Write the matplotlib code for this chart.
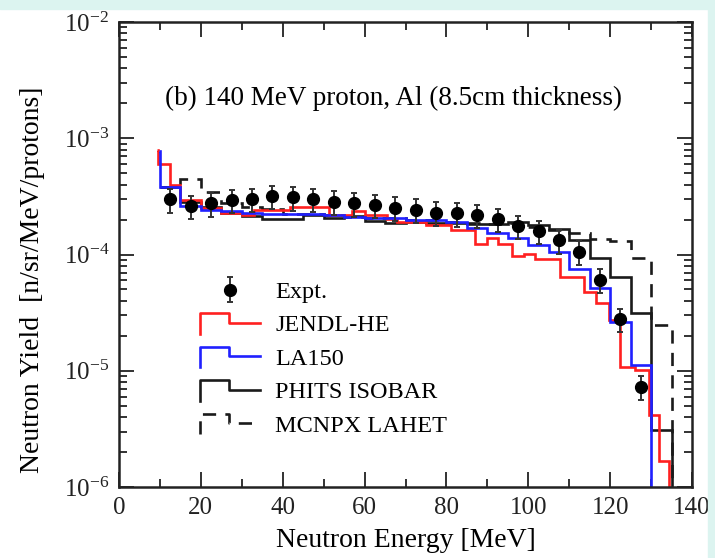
import matplotlib
matplotlib.use("Agg")
import matplotlib.pyplot as plt
from matplotlib.legend_handler import HandlerBase
from matplotlib.lines import Line2D
from matplotlib.patches import Rectangle
from matplotlib.ticker import MultipleLocator, LogLocator, NullFormatter

plt.rcParams['font.family'] = ['Liberation Serif', 'DejaVu Serif']
plt.rcParams['mathtext.fontset'] = 'stix'

# ---------------- data ----------------
expt_E = [12.5, 17.5, 22.5, 27.5, 32.5, 37.5, 42.5, 47.5, 52.5, 57.5, 62.5, 67.5,
          72.5, 77.5, 82.5, 87.5, 92.5, 97.5, 102.5, 107.5, 112.5, 117.5, 122.5, 127.5]
expt_y = [2.98e-4, 2.61e-4, 2.75e-4, 2.94e-4, 3.0e-4, 3.18e-4, 3.1e-4, 2.99e-4,
          2.85e-4, 2.75e-4, 2.67e-4, 2.53e-4, 2.42e-4, 2.29e-4, 2.26e-4, 2.19e-4,
          2.01e-4, 1.76e-4, 1.59e-4, 1.33e-4, 1.06e-4, 6.04e-5, 2.79e-5, 7.3e-6]
expt_err = [0.69e-4, 0.60e-4, 0.63e-4, 0.68e-4, 0.69e-4, 0.73e-4, 0.71e-4, 0.69e-4,
            0.66e-4, 0.63e-4, 0.61e-4, 0.58e-4, 0.56e-4, 0.53e-4, 0.52e-4, 0.50e-4,
            0.46e-4, 0.40e-4, 0.37e-4, 0.31e-4, 0.24e-4, 1.4e-5, 0.64e-5, 1.7e-6]

jendl_edges = [9.4, 9.6, 12.5, 15, 20, 25, 30, 33, 41.8, 51.2, 57, 60, 65.4, 68, 75, 81,
               87, 90, 92.7, 96, 99, 101.7, 107.8, 113.5, 116.6, 119.6, 122.4, 126,
               129.4, 131.9, 134.5, 136]
jendl_vals = [7.9e-4, 6.0e-4, 3.95e-4, 2.95e-4, 2.5e-4, 2.27e-4, 2.2e-4, 2.4e-4, 2.55e-4,
              2.19e-4, 2.37e-4, 2.2e-4, 2.03e-4, 1.9e-4, 1.8e-4, 1.61e-4, 1.23e-4,
              1.38e-4, 1.23e-4, 9.7e-5, 1.01e-4, 9.1e-5, 6.44e-5, 4.8e-5, 3.8e-5,
              2.73e-5, 1.08e-5, 1.02e-5, 4.16e-6, 1.66e-6, 1e-9]

la150_edges = [9.8, 10, 15, 20, 25, 30, 35, 40, 45, 50, 55, 60, 65, 70, 75, 80, 85, 90,
               95, 100, 105, 110, 115, 120, 125, 130, 131]
la150_vals = [7.8e-4, 3.83e-4, 2.61e-4, 2.42e-4, 2.38e-4, 2.29e-4, 2.25e-4, 2.25e-4,
              2.22e-4, 2.2e-4, 2.12e-4, 2.08e-4, 2.05e-4, 2.0e-4, 1.97e-4, 1.91e-4,
              1.68e-4, 1.52e-4, 1.38e-4, 1.21e-4, 1.06e-4, 7.46e-5, 5.12e-5, 2.64e-5,
              1.12e-5, 1e-9]

phits_edges = [10, 15, 20, 25, 30, 35, 40, 45, 50, 55, 60, 65, 70, 75, 80, 85, 90, 95,
               100, 105, 110, 115, 120, 125, 130, 135, 136]
phits_vals = [3.83e-4, 2.84e-4, 2.55e-4, 2.29e-4, 2.15e-4, 2.03e-4, 2.03e-4, 2.2e-4,
              2.06e-4, 2.13e-4, 1.94e-4, 1.88e-4, 1.9e-4, 1.85e-4, 1.86e-4, 1.82e-4,
              1.84e-4, 1.9e-4, 1.8e-4, 1.65e-4, 1.33e-4, 9.27e-5, 6.44e-5, 3.16e-5,
              3.1e-6, 1e-9]

mcnpx_edges = [10, 15, 20, 25, 30, 35, 40, 45, 50, 55, 60, 65, 70, 75, 80, 85, 90, 95,
               100, 105, 110, 115, 120, 125, 130, 135, 136]
mcnpx_vals = [3.83e-4, 4.46e-4, 3.43e-4, 2.8e-4, 2.55e-4, 2.47e-4, 2.25e-4, 2.22e-4,
              2.2e-4, 2.12e-4, 2.08e-4, 2.05e-4, 2.0e-4, 1.97e-4, 1.9e-4, 1.85e-4,
              1.84e-4, 1.85e-4, 1.72e-4, 1.62e-4, 1.52e-4, 1.35e-4, 1.3e-4, 9.3e-5,
              2.48e-5, 1e-9]

labels = ["Expt.", "JENDL-HE", "LA150", "PHITS ISOBAR", "MCNPX LAHET"]
xticks = [0, 20, 40, 60, 80, 100, 120, 140]
annotation = "(b) 140 MeV proton, Al (8.5cm thickness)"

# ---------------- figure ----------------
fig = plt.figure(figsize=(7.15, 5.58), dpi=100)
fig.patches.append(Rectangle((0, 1 - 9 / 558), 1, 9 / 558, transform=fig.transFigure,
                             color='#dcf4f0', zorder=0))
fig.patches.append(Rectangle((1 - 7 / 715, 0), 7 / 715, 1, transform=fig.transFigure,
                             color='#dcf4f0', zorder=0))
ax = fig.add_axes([119 / 715, 1 - 487 / 558, 573 / 715, 465 / 558])

lw = 1.9
st_mcnpx = ax.stairs(mcnpx_vals, mcnpx_edges, baseline=None, color='#1a1a1a', lw=lw,
                     linestyle=(0, (5, 3.5)), zorder=2.0)
st_phits = ax.stairs(phits_vals, phits_edges, baseline=None, color='#1a1a1a', lw=lw, zorder=2.1)
st_jendl = ax.stairs(jendl_vals, jendl_edges, baseline=None, color='#ff2020', lw=lw, zorder=2.2)
st_la = ax.stairs(la150_vals, la150_edges, baseline=None, color='#2020ff', lw=lw, zorder=2.3)

eb = ax.errorbar(expt_E, expt_y, yerr=expt_err, fmt='o', color='black', ms=8.5,
                 ecolor='#333333', elinewidth=1.4, capsize=2.5, capthick=1.4, zorder=3)

ax.set_yscale('log')
ax.set_xlim(0, 140)
ax.set_ylim(1e-6, 1e-2)
ax.set_xticks(xticks)
ax.xaxis.set_minor_locator(MultipleLocator(10))
ax.yaxis.set_major_locator(LogLocator(base=10, numticks=10))
ax.yaxis.set_minor_locator(LogLocator(base=10, subs=range(2, 10), numticks=20))
ax.yaxis.set_minor_formatter(NullFormatter())
ax.tick_params(which='both', direction='in', top=True, right=True, width=1.3,
               labelsize=18, colors='#222222')
ax.tick_params(which='major', length=11, pad=7)
ax.tick_params(which='minor', length=6)
for s in ax.spines.values():
    s.set_linewidth(1.8)
    s.set_color('#222222')

ax.set_xlabel("Neutron Energy [MeV]", fontsize=20, labelpad=7)
ax.set_ylabel("Neutron Yield  [n/sr/MeV/protons]", fontsize=20)
ax.yaxis.set_label_coords(-0.13, 0.445)
ax.text(0.08, 0.835, annotation, transform=ax.transAxes, fontsize=19.5, va='center')


class HandlerStep(HandlerBase):
    def create_artists(self, legend, orig_handle, xdescent, ydescent, width, height,
                       fontsize, trans):
        c = height / 2 - ydescent
        x0 = -xdescent
        xm = x0 + 0.48 * width
        xs = [x0, x0, xm, xm, x0 + width]
        ys = [c - 0.65 * height, c + 0.57 * height, c + 0.57 * height, c, c]
        ln = Line2D(xs, ys, color=orig_handle.get_edgecolor(),
                    lw=orig_handle.get_linewidth(), linestyle=orig_handle.get_linestyle())
        ln.set_transform(trans)
        return [ln]


hs = HandlerStep()
leg = ax.legend([eb, st_jendl, st_la, st_phits, st_mcnpx], labels,
                handler_map={st_jendl: hs, st_la: hs, st_phits: hs, st_mcnpx: hs},
                loc='upper left', bbox_to_anchor=(0.1414, 0.443), frameon=False,
                fontsize=17.5, handlelength=2.47, handletextpad=0.62, labelspacing=0.47,
                borderpad=0, borderaxespad=0)

fig.savefig("out.png", dpi=100)
